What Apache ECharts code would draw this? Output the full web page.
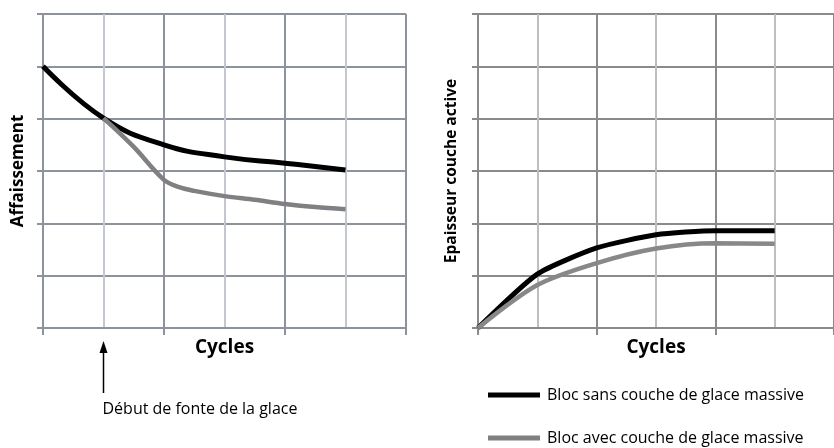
<!DOCTYPE html>
<html>
<head>
<meta charset="utf-8">
<script src="https://cdn.jsdelivr.net/npm/echarts@6/dist/echarts.min.js"></script>
<style>
  html, body { margin: 0; padding: 0; background: #fff; }
  #main { width: 834px; height: 448px; }
</style>
</head>
<body>
<div id="main"></div>
<script>
// values, one grid cell = 1 unit
const nameSans = 'Bloc sans couche de glace massive';
const nameAvec = 'Bloc avec couche de glace massive';

const affSansX = [0, 1, 2, 3, 4, 5];
const affSans = [5.0, 4.01, 3.5, 3.27, 3.15, 3.02];
const affAvecX = [1, 1.5, 2, 2.25, 2.5, 3, 3.5, 4, 4.5, 5];
const affAvec = [4.01, 3.46, 2.83, 2.69, 2.62, 2.52, 2.45, 2.37, 2.31, 2.27];

const epX = [0, 1, 2, 3, 4, 5];
const epSans = [0, 1.03, 1.53, 1.78, 1.86, 1.86];
const epAvec = [0, 0.82, 1.24, 1.52, 1.62, 1.61];

const annotation = 'Début de fonte de la glace';
const font = 'Open Sans';

const zip = (xs, ys) => xs.map((x, i) => [x, ys[i]]);

function xAxis(gridIndex, dark, light) {
  return {
    type: 'value', gridIndex: gridIndex, min: 0, max: 6, interval: 2,
    name: 'Cycles', nameLocation: 'middle', nameGap: 10,
    nameTextStyle: { fontFamily: font, fontWeight: 'bold', fontSize: 19, color: '#000', verticalAlign: 'top' },
    axisLabel: { show: false },
    axisLine: { show: true, lineStyle: { color: dark, width: 2 } },
    axisTick: { show: true, length: 7, lineStyle: { color: dark, width: 2 } },
    splitLine: { show: true, lineStyle: { color: dark, width: 2 } },
    minorTick: { show: false, splitNumber: 2 },
    minorSplitLine: { show: true, lineStyle: { color: light, width: 2 } }
  };
}

function yAxis(gridIndex, name, gap, size, dark) {
  return {
    type: 'value', gridIndex: gridIndex, min: 0, max: 6, interval: 1,
    name: name, nameLocation: 'middle', nameRotate: 90, nameGap: gap,
    nameTextStyle: { fontFamily: font, fontWeight: 'bold', fontSize: size, color: '#000' },
    axisLabel: { show: false },
    axisLine: { show: true, lineStyle: { color: dark, width: 2 } },
    axisTick: { show: true, length: 6, lineStyle: { color: dark, width: 2 } },
    splitLine: { show: true, lineStyle: { color: dark, width: 2 } }
  };
}

function line(name, data, axis, color, width, smooth) {
  return {
    type: 'line', name: name, data: data,
    xAxisIndex: axis, yAxisIndex: axis,
    symbol: 'none', smooth: smooth,
    itemStyle: { color: color },
    lineStyle: { color: color, width: width }
  };
}

function legend(name, top) {
  return {
    orient: 'vertical', left: 488, top: top, padding: 0,
    icon: 'rect', itemWidth: 52, itemHeight: 5,
    textStyle: { fontFamily: font, fontSize: 16, color: '#000', lineHeight: 20, padding: [0, 0, 0, 2] },
    data: [name]
  };
}

const chart = echarts.init(document.getElementById('main'));

chart.setOption({
  animation: false,
  grid: [
    { left: 43, top: 14, width: 363, height: 314 },
    { left: 478, top: 14, width: 364, height: 314 }
  ],
  xAxis: [
    xAxis(0, '#8c939c', '#c3c8d0'),
    xAxis(1, '#8a8a8a', '#bebebe')
  ],
  yAxis: [
    yAxis(0, 'Affaissement', 16, 17, '#8c939c'),
    yAxis(1, 'Epaisseur couche active', 18, 15.5, '#8a8a8a')
  ],
  legend: [legend(nameSans, 385), legend(nameAvec, 428)],
  series: [
    line(nameSans, zip(affSansX, affSans), 0, '#000', 5, 0.45),
    line(nameAvec, zip(affAvecX, affAvec), 0, '#808082', 4.5, 0.35),
    line(nameSans, zip(epX, epSans), 1, '#000', 5, 0.2),
    line(nameAvec, zip(epX, epAvec), 1, '#888888', 4.5, 0.3)
  ]
});

// arrow under the left chart marking where the ice starts melting
const px = chart.convertToPixel({ xAxisIndex: 0 }, 1);
chart.setOption({
  graphic: [
    { type: 'line', shape: { x1: px, y1: 393, x2: px, y2: 350 }, style: { stroke: '#000', lineWidth: 1.5 } },
    { type: 'polygon', shape: { points: [[px, 341], [px - 4, 353], [px + 4, 353]] }, style: { fill: '#000' } },
    { type: 'text', x: px - 1, y: 409, style: { text: annotation, font: '16px "' + font + '"', fill: '#000', verticalAlign: 'middle' } }
  ]
});
</script>
</body>
</html>
